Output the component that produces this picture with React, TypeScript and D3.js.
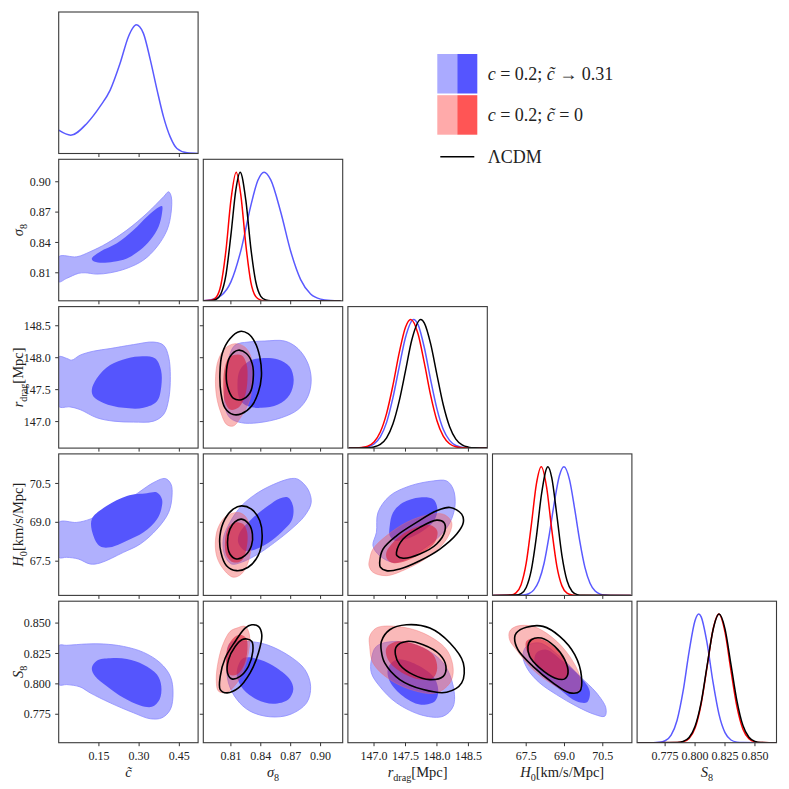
import React, { useRef, useEffect } from 'react';
import * as d3 from 'd3';

// parameter axes (shared by rows and columns)
const paramKeys = ['ctilde', 'sigma8', 'rdrag', 'H0', 'S8'];
const paramDomains = [[0, 0.52], [0.7823, 0.9222], [146.585, 148.8], [66.18, 71.64], [0.7516, 0.868]];
const paramTicks = [[0.15, 0.30, 0.45], [0.81, 0.84, 0.87, 0.90], [147.0, 147.5, 148.0, 148.5], [67.5, 69.0, 70.5], [0.775, 0.800, 0.825, 0.850]];
const paramFormats = ['.2f', '.2f', '.1f', '.1f', '.3f'];

// 1D marginals, [value, normalised density]
const ctBlue1D = [[0, 0.181], [0.045, 0.142], [0.105, 0.234], [0.155, 0.368], [0.192, 0.493], [0.229, 0.701], [0.26, 0.908], [0.276, 0.975], [0.289, 1.0], [0.302, 0.985], [0.316, 0.934], [0.342, 0.726], [0.367, 0.493], [0.391, 0.285], [0.416, 0.129], [0.441, 0.039], [0.479, 0.005], [0.52, 0]];
const sig8Blue1D = [[0.7823, 0.001], [0.79, 0.008], [0.80, 0.039], [0.81, 0.147], [0.82, 0.39], [0.83, 0.74], [0.837, 0.935], [0.8433, 1.0], [0.85, 0.94], [0.86, 0.69], [0.87, 0.385], [0.88, 0.165], [0.89, 0.053], [0.90, 0.013], [0.91, 0.0026], [0.92, 0]];
const sig8Red1D = [[0.7823, 0], [0.79, 0.0034], [0.795, 0.025], [0.80, 0.125], [0.805, 0.39], [0.81, 0.78], [0.8153, 1.0], [0.82, 0.82], [0.825, 0.435], [0.83, 0.146], [0.835, 0.032], [0.84, 0.0045], [0.845, 0], [0.92, 0]];
const sig8Black1D = [[0.7823, 0], [0.79, 0.001], [0.795, 0.01], [0.80, 0.055], [0.805, 0.2], [0.81, 0.51], [0.815, 0.865], [0.8193, 1.0], [0.825, 0.78], [0.83, 0.41], [0.835, 0.146], [0.84, 0.035], [0.845, 0.006], [0.85, 0], [0.92, 0]];
const rdBlue1D = [[146.6, 0], [146.8, 0.0025], [146.9, 0.01], [147.0, 0.032], [147.1, 0.087], [147.2, 0.2], [147.3, 0.39], [147.4, 0.63], [147.5, 0.86], [147.63, 1.0], [147.7, 0.96], [147.8, 0.78], [147.9, 0.53], [148.0, 0.305], [148.1, 0.146], [148.2, 0.06], [148.3, 0.02], [148.4, 0.006], [148.5, 0.001], [148.8, 0]];
const rdRed1D = [[146.6, 0], [146.8, 0.004], [146.9, 0.015], [147.0, 0.048], [147.1, 0.125], [147.2, 0.27], [147.3, 0.487], [147.4, 0.74], [147.5, 0.94], [147.584, 1.0], [147.7, 0.887], [147.8, 0.66], [147.9, 0.41], [148.0, 0.213], [148.1, 0.093], [148.2, 0.034], [148.3, 0.01], [148.4, 0.003], [148.8, 0]];
const rdBlack1D = [[146.6, 0], [146.9, 0.002], [147.0, 0.009], [147.1, 0.029], [147.2, 0.08], [147.3, 0.187], [147.4, 0.365], [147.5, 0.6], [147.6, 0.84], [147.743, 1.0], [147.8, 0.972], [147.9, 0.81], [148.0, 0.57], [148.1, 0.337], [148.2, 0.168], [148.3, 0.07], [148.4, 0.025], [148.5, 0.0075], [148.6, 0.002], [148.8, 0]];
const h0Blue1D = [[66.2, 0], [67.4, 0.0035], [67.6, 0.013], [67.8, 0.043], [68.0, 0.114], [68.2, 0.25], [68.4, 0.467], [68.6, 0.72], [68.8, 0.93], [68.98, 1.0], [69.2, 0.896], [69.4, 0.67], [69.6, 0.42], [69.8, 0.218], [70.0, 0.095], [70.2, 0.034], [70.4, 0.01], [70.6, 0.0026], [70.8, 0], [71.6, 0]];
const h0Red1D = [[66.2, 0], [66.9, 0.0036], [67.1, 0.02], [67.3, 0.083], [67.5, 0.25], [67.7, 0.546], [67.9, 0.867], [68.09, 1.0], [68.3, 0.84], [68.5, 0.513], [68.7, 0.228], [68.9, 0.074], [69.1, 0.017], [69.3, 0.003], [69.5, 0], [71.6, 0]];
const h0Black1D = [[66.2, 0], [67.1, 0.0024], [67.3, 0.014], [67.5, 0.062], [67.7, 0.197], [67.9, 0.457], [68.1, 0.787], [68.35, 1.0], [68.5, 0.916], [68.7, 0.624], [68.9, 0.31], [69.1, 0.114], [69.3, 0.031], [69.5, 0.006], [69.7, 0.001], [71.6, 0]];
const s8Blue1D = [[0.752, 0], [0.765, 0.0005], [0.77, 0.003], [0.775, 0.015], [0.78, 0.059], [0.785, 0.175], [0.79, 0.4], [0.795, 0.706], [0.80, 0.95], [0.8031, 1.0], [0.805, 0.98], [0.81, 0.776], [0.815, 0.47], [0.82, 0.22], [0.825, 0.078], [0.83, 0.021], [0.835, 0.0045], [0.84, 0.0007], [0.868, 0]];
const s8Red1D = [[0.752, 0], [0.785, 0.0012], [0.79, 0.0073], [0.795, 0.033], [0.80, 0.114], [0.805, 0.297], [0.81, 0.588], [0.815, 0.88], [0.8198, 1.0], [0.825, 0.86], [0.83, 0.56], [0.835, 0.278], [0.84, 0.104], [0.845, 0.03], [0.85, 0.0064], [0.855, 0.001], [0.868, 0]];
const s8Black1D = [[0.752, 0], [0.785, 0.0018], [0.79, 0.0099], [0.795, 0.04], [0.80, 0.127], [0.805, 0.31], [0.81, 0.595], [0.815, 0.876], [0.8201, 1.0], [0.825, 0.885], [0.83, 0.607], [0.835, 0.324], [0.84, 0.133], [0.845, 0.042], [0.85, 0.0104], [0.855, 0.002], [0.868, 0]];

// 2D contours [95%, 68%] as [x, y] in data units
const ctSig8Blue = [
  [[0, 0.8258], [0.0673, 0.8258], [0.117, 0.8308], [0.1796, 0.8391], [0.2544, 0.8522], [0.3292, 0.8688], [0.3913, 0.8852], [0.41, 0.8901], [0.42, 0.8852], [0.419, 0.8688], [0.404, 0.8522], [0.3666, 0.8357], [0.3165, 0.8226], [0.2544, 0.8144], [0.1919, 0.81], [0.1422, 0.8087], [0.0984, 0.81], [0.0733, 0.8094], [0.0299, 0.8045], [0, 0.8011]],
  [[0.1235, 0.8242], [0.1545, 0.8308], [0.217, 0.8391], [0.2791, 0.8522], [0.3292, 0.8654], [0.3666, 0.8737], [0.3853, 0.876], [0.3853, 0.8688], [0.3726, 0.8555], [0.3416, 0.8423], [0.3041, 0.8325], [0.2544, 0.8242], [0.2043, 0.8209], [0.1545, 0.8199], [0.1272, 0.8219]]
];
const ctRdBlue = [
  [[0, 148.013], [0.0299, 147.989], [0.0486, 147.962], [0.0797, 148.04], [0.1294, 148.102], [0.1919, 148.143], [0.279, 148.205], [0.3539, 148.245], [0.3913, 148.194], [0.41, 148.013], [0.4164, 147.704], [0.41, 147.343], [0.3913, 147.111], [0.3539, 147.007], [0.279, 146.992], [0.2043, 147.007], [0.1422, 147.06], [0.0797, 147.188], [0.0423, 147.23], [0, 147.239]],
  [[0.1235, 147.498], [0.1422, 147.679], [0.1919, 147.885], [0.2544, 147.989], [0.3165, 148.024], [0.3603, 147.989], [0.3816, 147.807], [0.3827, 147.549], [0.3666, 147.317], [0.3165, 147.215], [0.2417, 147.215], [0.1669, 147.292], [0.1294, 147.394]]
];
const ctH0Blue = [
  [[0, 68.996], [0.0673, 68.996], [0.1171, 69.123], [0.1919, 69.508], [0.2791, 70.019], [0.3539, 70.535], [0.3977, 70.688], [0.419, 70.469], [0.4227, 70.019], [0.41, 69.381], [0.3666, 68.738], [0.3041, 68.162], [0.2417, 67.842], [0.1545, 67.431], [0.1171, 67.392], [0.0733, 67.585], [0.0299, 67.65], [0, 67.65]],
  [[0.1235, 69.123], [0.1796, 69.635], [0.2544, 70.019], [0.3292, 70.123], [0.3666, 70.15], [0.3853, 69.892], [0.3827, 69.508], [0.3666, 69.123], [0.3165, 68.612], [0.2544, 68.288], [0.1919, 68.035], [0.1545, 68.073], [0.1294, 68.481]]
];
const ctS8Blue = [
  [[0, 0.8314], [0.0299, 0.8317], [0.1047, 0.8328], [0.1668, 0.8328], [0.2417, 0.8308], [0.3165, 0.8259], [0.379, 0.8172], [0.4164, 0.8062], [0.4265, 0.7926], [0.4164, 0.7789], [0.3853, 0.7721], [0.3416, 0.7713], [0.2791, 0.7762], [0.1919, 0.7844], [0.1171, 0.7926], [0.0797, 0.7975], [0.0299, 0.7994], [0, 0.7994]],
  [[0.1235, 0.8131], [0.1422, 0.8191], [0.1919, 0.821], [0.2544, 0.8205], [0.3165, 0.8158], [0.3666, 0.8076], [0.3827, 0.798], [0.3763, 0.7871], [0.3479, 0.7811], [0.3041, 0.7822], [0.2417, 0.7885], [0.1796, 0.798], [0.1358, 0.8062]]
];
const sig8RdBlue = [
  [[0.814, 148.194], [0.8273, 148.245], [0.844, 148.261], [0.864, 148.261], [0.8773, 148.143], [0.8873, 147.911], [0.8906, 147.653], [0.8873, 147.394], [0.8773, 147.188], [0.8606, 147.06], [0.8373, 146.982], [0.8206, 146.982], [0.809, 147.06], [0.804, 147.239], [0.8046, 147.602], [0.8073, 147.962]],
  [[0.8373, 147.989], [0.8573, 147.973], [0.869, 147.859], [0.873, 147.653], [0.869, 147.42], [0.8573, 147.266], [0.8406, 147.215], [0.8273, 147.239], [0.819, 147.343], [0.8166, 147.602], [0.819, 147.807], [0.8273, 147.936]]
];
const sig8RdRed = [
  [[0.814, 148.22], [0.824, 148.168], [0.8306, 147.989], [0.8313, 147.704], [0.829, 147.343], [0.8206, 147.085], [0.8123, 146.93], [0.8056, 146.956], [0.80, 147.137], [0.7956, 147.394], [0.7946, 147.704], [0.7973, 147.962], [0.804, 148.143]],
  [[0.8123, 148.04], [0.8206, 148.04], [0.8256, 147.911], [0.8266, 147.653], [0.824, 147.394], [0.8173, 147.215], [0.809, 147.188], [0.804, 147.317], [0.8023, 147.602], [0.804, 147.859], [0.8073, 147.989]]
];
const sig8RdBlack = [
  [[0.819, 148.411], [0.8273, 148.376], [0.834, 148.245], [0.839, 148.013], [0.8406, 147.704], [0.8373, 147.447], [0.8306, 147.239], [0.8206, 147.122], [0.8123, 147.111], [0.804, 147.215], [0.80, 147.447], [0.799, 147.756], [0.8013, 148.066], [0.809, 148.298]],
  [[0.8173, 148.117], [0.8256, 148.066], [0.8313, 147.911], [0.8323, 147.653], [0.829, 147.447], [0.8206, 147.343], [0.8123, 147.369], [0.8066, 147.549], [0.8056, 147.807], [0.809, 148.013]]
];
const sig8H0Blue = [
  [[0.8773, 70.662], [0.8873, 70.277], [0.8906, 69.765], [0.884, 69.25], [0.8706, 68.738], [0.854, 68.227], [0.8373, 67.777], [0.8206, 67.458], [0.8106, 67.392], [0.804, 67.712], [0.8023, 68.354], [0.809, 68.996], [0.8206, 69.635], [0.8373, 70.15], [0.8573, 70.535], [0.8706, 70.688]],
  [[0.8673, 69.958], [0.8723, 69.635], [0.8716, 69.123], [0.864, 68.738], [0.8506, 68.288], [0.8356, 67.969], [0.824, 67.904], [0.8173, 68.227], [0.819, 68.612], [0.8306, 69.123], [0.8473, 69.635], [0.859, 69.919]]
];
const sig8H0Red = [
  [[0.8173, 69.381], [0.824, 69.25], [0.829, 68.865], [0.8306, 68.227], [0.8273, 67.458], [0.8206, 67.008], [0.8123, 66.881], [0.8023, 67.2], [0.7956, 67.712], [0.7946, 68.354], [0.798, 68.865], [0.8056, 69.25]],
  [[0.814, 68.996], [0.8223, 68.931], [0.8263, 68.612], [0.8256, 67.969], [0.8206, 67.519], [0.8123, 67.458], [0.8056, 67.712], [0.804, 68.227], [0.8066, 68.738], [0.8106, 68.931]]
];
const sig8H0Black = [
  [[0.8206, 69.635], [0.8306, 69.508], [0.839, 69.058], [0.8413, 68.354], [0.8373, 67.712], [0.8273, 67.265], [0.8156, 67.135], [0.8056, 67.327], [0.80, 67.842], [0.799, 68.481], [0.804, 69.123], [0.8123, 69.508]],
  [[0.8206, 69.123], [0.828, 68.931], [0.8316, 68.546], [0.8306, 68.096], [0.824, 67.712], [0.8156, 67.585], [0.809, 67.777], [0.8066, 68.227], [0.809, 68.738], [0.814, 69.019]]
];
const sig8S8Blue = [
  [[0.8093, 0.8336], [0.826, 0.8349], [0.846, 0.8322], [0.8693, 0.8226], [0.8843, 0.8117], [0.89, 0.798], [0.886, 0.7844], [0.8693, 0.7748], [0.8493, 0.7729], [0.8293, 0.7775], [0.816, 0.7871], [0.8076, 0.8008], [0.806, 0.8172]],
  [[0.8226, 0.8213], [0.8393, 0.8199], [0.856, 0.8131], [0.8693, 0.8035], [0.8726, 0.7953], [0.8676, 0.7871], [0.8526, 0.7836], [0.836, 0.7871], [0.8226, 0.7953], [0.816, 0.8062], [0.8176, 0.8158]]
];
const sig8S8Red = [
  [[0.816, 0.8459], [0.8243, 0.8473], [0.8286, 0.8404], [0.8276, 0.8254], [0.8226, 0.8117], [0.816, 0.8008], [0.806, 0.7931], [0.7976, 0.7939], [0.7953, 0.8035], [0.7976, 0.8199], [0.8026, 0.8336], [0.8093, 0.8432]],
  [[0.8193, 0.8404], [0.8253, 0.8376], [0.8266, 0.8281], [0.8233, 0.8158], [0.816, 0.8076], [0.8086, 0.8076], [0.8053, 0.8158], [0.806, 0.8281], [0.811, 0.8363], [0.816, 0.8398]]
];
const sig8S8Black = [
  [[0.831, 0.8486], [0.8376, 0.8473], [0.841, 0.8404], [0.8376, 0.8254], [0.8293, 0.809], [0.8176, 0.7967], [0.806, 0.7926], [0.7993, 0.7953], [0.7993, 0.8062], [0.8043, 0.8213], [0.8143, 0.8349], [0.8243, 0.8459]],
  [[0.826, 0.8369], [0.831, 0.8349], [0.832, 0.8267], [0.8276, 0.8144], [0.8193, 0.8062], [0.811, 0.8041], [0.8066, 0.809], [0.8076, 0.8199], [0.8143, 0.8308], [0.821, 0.8363]]
];
const rdH0Blue = [
  [[147.038, 68.612], [147.063, 69.381], [147.25, 70.019], [147.569, 70.404], [147.94, 70.596], [148.154, 70.596], [148.259, 70.277], [148.287, 69.635], [148.207, 68.996], [148.047, 68.481], [147.781, 67.969], [147.516, 67.585], [147.302, 67.458], [147.09, 67.712], [146.983, 68.096]],
  [[147.25, 68.865], [147.302, 69.381], [147.462, 69.765], [147.728, 69.958], [147.94, 69.892], [148.004, 69.573], [147.968, 69.123], [147.781, 68.673], [147.516, 68.354], [147.33, 68.288], [147.25, 68.481]]
];
const rdH0Red = [
  [[146.931, 67.585], [146.983, 67.969], [147.197, 68.481], [147.516, 68.996], [147.835, 69.277], [148.1, 69.315], [148.234, 68.996], [148.154, 68.354], [147.888, 67.712], [147.516, 67.2], [147.197, 66.942], [146.983, 67.073], [146.92, 67.327]],
  [[147.197, 67.842], [147.357, 68.354], [147.621, 68.765], [147.888, 68.892], [148.004, 68.673], [147.968, 68.227], [147.781, 67.842], [147.516, 67.519], [147.302, 67.431], [147.207, 67.585]]
];
const rdH0Black = [
  [[147.09, 67.458], [147.143, 67.969], [147.357, 68.481], [147.676, 68.996], [147.995, 69.442], [148.207, 69.573], [148.393, 69.315], [148.419, 68.996], [148.314, 68.546], [148.047, 67.969], [147.728, 67.519], [147.409, 67.2], [147.197, 67.135], [147.102, 67.265]],
  [[147.357, 67.842], [147.462, 68.354], [147.728, 68.804], [147.995, 69.085], [148.111, 68.996], [148.127, 68.673], [147.995, 68.162], [147.728, 67.777], [147.462, 67.612], [147.366, 67.712]]
];
const rdS8Blue = [
  [[146.958, 0.8199], [147.038, 0.8308], [147.357, 0.8349], [147.781, 0.8295], [148.1, 0.8172], [148.259, 0.798], [148.259, 0.7816], [148.1, 0.7734], [147.781, 0.774], [147.357, 0.7844], [147.09, 0.798], [146.958, 0.809]],
  [[147.223, 0.8131], [147.357, 0.8199], [147.676, 0.8158], [147.94, 0.8062], [148.02, 0.7953], [147.968, 0.7857], [147.728, 0.783], [147.462, 0.7898], [147.25, 0.8021]]
];
const rdS8Red = [
  [[146.931, 0.8391], [147.038, 0.846], [147.357, 0.8473], [147.781, 0.8418], [148.154, 0.8281], [148.259, 0.8117], [148.207, 0.8008], [147.995, 0.7926], [147.676, 0.7939], [147.25, 0.8035], [146.983, 0.8172], [146.931, 0.8308]],
  [[147.197, 0.8295], [147.357, 0.8349], [147.676, 0.8322], [147.94, 0.824], [148.004, 0.8131], [147.94, 0.805], [147.728, 0.8035], [147.409, 0.8103], [147.223, 0.8199]]
];
const rdS8Black = [
  [[147.117, 0.8349], [147.25, 0.8445], [147.516, 0.8486], [147.888, 0.8459], [148.207, 0.8336], [148.419, 0.8172], [148.393, 0.8008], [148.154, 0.7931], [147.781, 0.7953], [147.409, 0.8035], [147.17, 0.8172], [147.117, 0.8267]],
  [[147.357, 0.8308], [147.516, 0.8349], [147.781, 0.8322], [148.047, 0.824], [148.143, 0.8144], [148.1, 0.8062], [147.888, 0.8035], [147.621, 0.8076], [147.409, 0.8158], [147.34, 0.824]]
];
const h0S8Blue = [
  [[67.505, 0.8308], [68.027, 0.8336], [68.812, 0.8226], [69.598, 0.8062], [70.253, 0.7926], [70.618, 0.7803], [70.579, 0.7734], [70.187, 0.7748], [69.468, 0.7816], [68.683, 0.7912], [68.027, 0.8008], [67.568, 0.8117], [67.371, 0.8226]],
  [[67.898, 0.8254], [68.29, 0.8281], [68.942, 0.8185], [69.598, 0.8062], [69.99, 0.7939], [69.884, 0.7849], [69.468, 0.7857], [68.812, 0.7953], [68.157, 0.8062], [67.831, 0.8172]]
];
const h0S8Red = [
  [[66.849, 0.8431], [67.112, 0.8473], [67.764, 0.8473], [68.549, 0.8377], [69.205, 0.8226], [69.598, 0.8062], [69.598, 0.7953], [69.205, 0.7926], [68.549, 0.7994], [67.764, 0.8117], [67.112, 0.8281], [66.849, 0.8363]],
  [[67.505, 0.835], [67.831, 0.8377], [68.29, 0.835], [68.812, 0.8254], [69.138, 0.8144], [69.138, 0.8062], [68.812, 0.8041], [68.29, 0.809], [67.764, 0.8185], [67.505, 0.8281]]
];
const h0S8Black = [
  [[67.112, 0.8418], [67.505, 0.8465], [68.157, 0.8473], [68.812, 0.8391], [69.401, 0.8241], [69.664, 0.8062], [69.598, 0.7939], [69.205, 0.7926], [68.549, 0.8008], [67.764, 0.8144], [67.175, 0.8281], [67.046, 0.8377]],
  [[67.568, 0.8308], [67.701, 0.8363], [68.094, 0.8377], [68.616, 0.8308], [69.008, 0.8199], [69.138, 0.809], [69.008, 0.8041], [68.616, 0.8049], [68.027, 0.8131], [67.635, 0.8226]]
];

// which data goes in which panel
const diagCurves = [
  { i: 0, blue: ctBlue1D, red: null, black: null },
  { i: 1, blue: sig8Blue1D, red: sig8Red1D, black: sig8Black1D },
  { i: 2, blue: rdBlue1D, red: rdRed1D, black: rdBlack1D },
  { i: 3, blue: h0Blue1D, red: h0Red1D, black: h0Black1D },
  { i: 4, blue: s8Blue1D, red: s8Red1D, black: s8Black1D }
];
const pairPanels = [
  { row: 1, col: 0, blue: ctSig8Blue, red: null, black: null },
  { row: 2, col: 0, blue: ctRdBlue, red: null, black: null },
  { row: 3, col: 0, blue: ctH0Blue, red: null, black: null },
  { row: 4, col: 0, blue: ctS8Blue, red: null, black: null },
  { row: 2, col: 1, blue: sig8RdBlue, red: sig8RdRed, black: sig8RdBlack },
  { row: 3, col: 1, blue: sig8H0Blue, red: sig8H0Red, black: sig8H0Black },
  { row: 4, col: 1, blue: sig8S8Blue, red: sig8S8Red, black: sig8S8Black },
  { row: 3, col: 2, blue: rdH0Blue, red: rdH0Red, black: rdH0Black },
  { row: 4, col: 2, blue: rdS8Blue, red: rdS8Red, black: rdS8Black },
  { row: 4, col: 3, blue: h0S8Blue, red: h0S8Red, black: h0S8Black }
];

const FONT = '"Liberation Serif", "DejaVu Serif", serif';

// label pieces: t = text, i = italic, s = subscript
const axisLabels = [
  [{ t: 'c\u0303', i: true }],
  [{ t: '\u03c3', i: true }, { t: '8', s: true }],
  [{ t: 'r', i: true }, { t: 'drag', s: true }, { t: '[Mpc]' }],
  [{ t: 'H', i: true }, { t: '0', s: true }, { t: '[km/s/Mpc]' }],
  [{ t: 'S', i: true }, { t: '8', s: true }]
];

const legendItems = [
  { light: '#aaaaff', dark: '#5555ff', parts: [{ t: 'c', i: true }, { t: ' = 0.2; ' }, { t: 'c\u0303', i: true }, { t: ' \u2192 0.31' }] },
  { light: '#ffaaaa', dark: '#ff5555', parts: [{ t: 'c', i: true }, { t: ' = 0.2; ' }, { t: 'c\u0303', i: true }, { t: ' = 0' }] },
  { line: '#000', parts: [{ t: '\u039bCDM' }] }
];

const App = () => {
  const ref = useRef(null);

  useEffect(() => {
    const svg = d3.select(ref.current);
    svg.selectAll('*').remove();

    const panelLeft = 58.7, colStep = 144.6, panelW = 139.4;
    const panelTop = 12, rowStep = 147.3, panelH = 141.5;
    const colX = (i) => panelLeft + i * colStep;
    const rowY = (j) => panelTop + j * rowStep;

    const xs = paramDomains.map((d, i) => d3.scaleLinear().domain(d).range([colX(i), colX(i) + panelW]));
    const ys = paramDomains.map((d, j) => d3.scaleLinear().domain(d).range([rowY(j) + panelH, rowY(j)]));

    const defs = svg.append('defs');

    const writeParts = (textSel, parts, size) => {
      let shift = 0;
      parts.forEach((p) => {
        const ts = textSel.append('tspan').text(p.t);
        if (p.i) ts.attr('font-style', 'italic');
        if (p.s) {
          const d = size * 0.28;
          ts.attr('font-size', size * 0.7).attr('dy', d - shift);
          shift = d;
        } else if (shift !== 0) {
          ts.attr('dy', -shift);
          shift = 0;
        }
      });
    };

    const addTicks = (g, i, j, diag) => {
      const x = xs[i];
      const yb = rowY(j) + panelH;
      paramTicks[i].forEach((t) => {
        g.append('line')
          .attr('x1', x(t)).attr('x2', x(t))
          .attr('y1', yb).attr('y2', yb + 3.5)
          .attr('stroke', '#333').attr('stroke-width', 1);
        if (j === 4) {
          g.append('text')
            .attr('x', x(t)).attr('y', yb + 17.5)
            .attr('text-anchor', 'middle')
            .attr('font-size', 12)
            .attr('font-family', FONT)
            .attr('fill', '#222')
            .text(d3.format(paramFormats[i])(t));
        }
      });
      if (diag) return;
      const y = ys[j];
      const xl = colX(i);
      paramTicks[j].forEach((t) => {
        g.append('line')
          .attr('x1', xl - 3.5).attr('x2', xl)
          .attr('y1', y(t)).attr('y2', y(t))
          .attr('stroke', '#333').attr('stroke-width', 1);
        if (i === 0) {
          g.append('text')
            .attr('x', xl - 8).attr('y', y(t))
            .attr('dy', '0.34em')
            .attr('text-anchor', 'end')
            .attr('font-size', 12)
            .attr('font-family', FONT)
            .attr('fill', '#222')
            .text(d3.format(paramFormats[j])(t));
        }
      });
    };

    const addFrame = (g, i, j) => {
      g.append('rect')
        .attr('x', colX(i)).attr('y', rowY(j))
        .attr('width', panelW).attr('height', panelH)
        .attr('fill', 'none')
        .attr('stroke', '#3a3a3a')
        .attr('stroke-width', 1.1);
    };

    const addClip = (id, i, j) => {
      defs.append('clipPath').attr('id', id)
        .append('rect')
        .attr('x', colX(i)).attr('y', rowY(j))
        .attr('width', panelW).attr('height', panelH);
    };

    // diagonal 1D panels
    diagCurves.forEach(({ i, blue, red, black }) => {
      const g = svg.append('g');
      const id = 'clip-d' + i;
      addClip(id, i, i);
      const yd = d3.scaleLinear().domain([0, 1.1]).range([rowY(i) + panelH, rowY(i)]);
      const line = d3.line()
        .x((d) => xs[i](d[0]))
        .y((d) => yd(d[1]))
        .curve(d3.curveMonotoneX);
      const inner = g.append('g').attr('clip-path', `url(#${id})`);
      [[blue, '#5a5aff'], [red, '#ff0000'], [black, '#000000']].forEach(([pts, c]) => {
        if (!pts) return;
        inner.append('path')
          .attr('d', line(pts))
          .attr('fill', 'none')
          .attr('stroke', c)
          .attr('stroke-width', 1.5);
      });
      addTicks(g, i, i, true);
      addFrame(g, i, i);
    });

    // 2D panels
    pairPanels.forEach(({ row, col, blue, red, black }) => {
      const g = svg.append('g');
      const id = `clip-${row}-${col}`;
      addClip(id, col, row);
      const shape = d3.line()
        .x((d) => xs[col](d[0]))
        .y((d) => ys[row](d[1]))
        .curve(d3.curveCatmullRomClosed.alpha(0.5));
      const inner = g.append('g').attr('clip-path', `url(#${id})`);
      if (blue) {
        inner.append('path').attr('d', shape(blue[0]))
          .attr('fill', '#b0b0fd').attr('stroke', '#8c8cff').attr('stroke-width', 0.8);
        inner.append('path').attr('d', shape(blue[1]))
          .attr('fill', '#5555fd').attr('stroke', 'none');
      }
      if (red) {
        inner.append('path').attr('d', shape(red[0]))
          .attr('fill', 'rgba(242,80,80,0.4)').attr('stroke', 'rgba(240,110,110,0.5)').attr('stroke-width', 0.8);
        inner.append('path').attr('d', shape(red[1]))
          .attr('fill', 'rgba(218,28,52,0.6)').attr('stroke', 'none');
      }
      if (black) {
        black.forEach((lvl) => {
          inner.append('path').attr('d', shape(lvl))
            .attr('fill', 'none').attr('stroke', '#000').attr('stroke-width', 1.6);
        });
      }
      addTicks(g, col, row, false);
      addFrame(g, col, row);
    });

    // axis labels: bottom row and left column
    axisLabels.forEach((parts, i) => {
      const tx = svg.append('text')
        .attr('x', colX(i) + panelW / 2)
        .attr('y', 777)
        .attr('text-anchor', 'middle')
        .attr('font-size', 14.5)
        .attr('font-family', FONT)
        .attr('fill', '#222');
      writeParts(tx, parts, 14.5);
      if (i === 0) return;
      const cy = rowY(i) + panelH / 2;
      const ty = svg.append('text')
        .attr('transform', `translate(23,${cy}) rotate(-90)`)
        .attr('text-anchor', 'middle')
        .attr('font-size', 14.5)
        .attr('font-family', FONT)
        .attr('fill', '#222');
      writeParts(ty, parts, 14.5);
    });

    // legend
    const lg = svg.append('g');
    const lx = 437.3, ly = 54, pw = 20, ph = 39.5, gap = 1.7;
    legendItems.forEach((item, k) => {
      const y0 = ly + k * (ph + gap);
      let cy = y0 + ph / 2;
      if (item.line) {
        cy = 156.7;
        lg.append('line')
          .attr('x1', lx + 3).attr('x2', lx + 2 * pw - 3)
          .attr('y1', cy).attr('y2', cy)
          .attr('stroke', item.line).attr('stroke-width', 1.6);
      } else {
        lg.append('rect').attr('x', lx).attr('y', y0).attr('width', pw).attr('height', ph).attr('fill', item.light);
        lg.append('rect').attr('x', lx + pw).attr('y', y0).attr('width', pw).attr('height', ph).attr('fill', item.dark);
      }
      const t = lg.append('text')
        .attr('x', 487.7)
        .attr('y', cy)
        .attr('dy', '0.33em')
        .attr('font-size', 18)
        .attr('font-family', FONT)
        .attr('fill', '#222');
      writeParts(t, item.parts, 18);
    });
  }, []);

  return (
    <svg
      ref={ref}
      width={789}
      height={789}
      style={{ position: 'absolute', left: 0, top: 0, background: '#fff' }}
    ></svg>
  );
};

export default App;
